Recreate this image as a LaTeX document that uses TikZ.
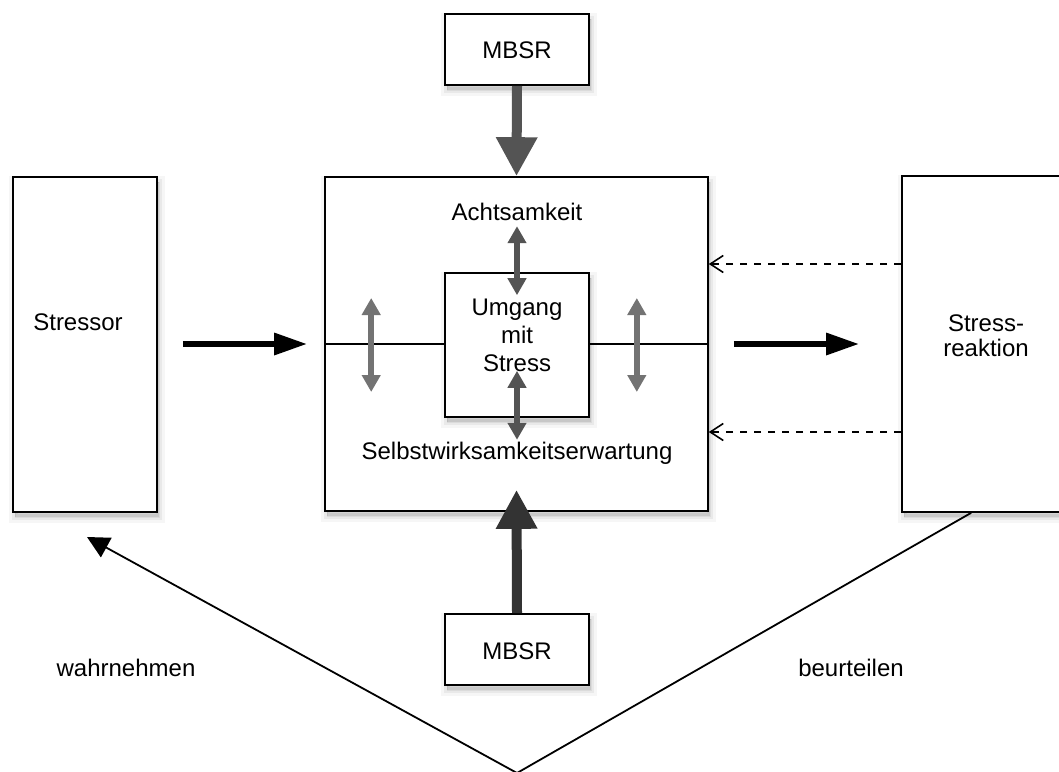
\documentclass[tikz,border=0pt]{standalone}
\usepackage{fontspec}
\setmainfont{Liberation Sans}
\usetikzlibrary{arrows.meta}

\begin{document}
\begin{tikzpicture}[x=1pt,y=-1pt,
  softshadow/.style={
    preaction={draw=black,draw opacity=0.035,line width=12pt,
      fill=black,fill opacity=0.035,transform canvas={xshift=2pt,yshift=-5pt}},
    preaction={draw=black,draw opacity=0.05,line width=6pt,
      fill=black,fill opacity=0.05,transform canvas={xshift=2pt,yshift=-5pt}},
    preaction={draw=black,draw opacity=0.06,line width=1pt,
      fill=black,fill opacity=0.06,transform canvas={xshift=2pt,yshift=-5pt}}},
  box/.style={softshadow,draw=black,line width=1.6pt,fill=white,inner sep=0pt},
  lbl/.style={font=\fontsize{24}{28}\selectfont,align=center,inner sep=0pt},
  flowarrow/.style={line width=6pt,-{Triangle[length=33pt,width=21pt]}},
  mbsrarrow/.style={line width=10pt,-{Triangle[length=39pt,width=39pt]}},
  linkarrow/.style={line width=6.5pt,
    {Triangle[length=17pt,width=18pt]}-{Triangle[length=17pt,width=18pt]}},
  feedback/.style={line width=1.6pt,dash pattern=on 7pt off 7pt,
    -{Straight Barb[length=13pt,width=17pt]}},
  appraisal/.style={line width=1.8pt},
]
\useasboundingbox (0,0) rectangle (1059,771);

% boxes
\node[box,minimum width=144pt,minimum height=335pt] (stressor) at (85,344.5) {};
\node[box,minimum width=383pt,minimum height=334pt] (core) at (516.5,344) {};
\node[box,minimum width=163pt,minimum height=336pt] (reakt) at (983.5,344) {};
\node[box,minimum width=144pt,minimum height=71pt] (mtop) at (517,49.5) {};
\node[box,minimum width=144pt,minimum height=71pt] (mbot) at (517,649.5) {};

% divider through the core box
\draw[line width=1.6pt] (core.west) -- (core.east);
\node[box,minimum width=144pt,minimum height=144pt] (inner) at (517,345) {};

% texts
\node[lbl] (tstressor) at (78,322) {Stressor};
\node[lbl,font=\fontsize{24}{25}\selectfont] (treakt) at (986,336) {Stress-\\reaktion};
\node[lbl] (tmtop) at (517,50) {MBSR};
\node[lbl] (tmbot) at (517,651) {MBSR};
\node[lbl] (tach) at (517,212) {Achtsamkeit};
\node[lbl] (tselbst) at (517,453) {Selbstwirksamkeitserwartung};
\node[lbl] (tumgang) at (517,335) {Umgang\\mit\\Stress};
\node[lbl] (twahr) at (126,668) {wahrnehmen};
\node[lbl] (tbeurt) at (851,668) {beurteilen};

% main flow
\draw[flowarrow] ([xshift=25pt]stressor.east |- core.west) -- ([xshift=-17pt]core.west);
\draw[flowarrow] ([xshift=25pt]core.east) -- ([xshift=-42pt]reakt.west |- core.east);

% MBSR influences
\draw[mbsrarrow,draw=black!67,fill=black!67] (mtop.south) -- (core.north);
\draw[mbsrarrow,draw=black!80,fill=black!80] (mbot.north) -- ([yshift=22pt]core.south);

% links inside the core box
\draw[linkarrow,draw=black!67,fill=black!67] ([yshift=46pt]inner.north) -- ([yshift=-23pt]inner.north);
\draw[linkarrow,draw=black!67,fill=black!67] ([yshift=47pt]inner.south) -- ([yshift=-22pt]inner.south);
\draw[linkarrow,draw=black!55,fill=black!55] ([xshift=47pt,yshift=46pt]core.west) -- ([xshift=47pt,yshift=-48pt]core.west);
\draw[linkarrow,draw=black!55,fill=black!55] ([xshift=-72pt,yshift=46pt]core.east) -- ([xshift=-72pt,yshift=-48pt]core.east);

% feedback from the stress reaction
\draw[feedback] (reakt.west |- 0,264) -- (core.east |- 0,264);
\draw[feedback] (reakt.west |- 0,432) -- (core.east |- 0,432);

% appraisal loop
\coordinate (apex) at (517,773);
\coordinate (perceive) at (87,537);
\draw[appraisal] ([xshift=70pt]reakt.south west) -- (apex);
\draw[appraisal,-{Triangle[length=22pt,width=22pt]}] (apex) -- (perceive);
\end{tikzpicture}
\end{document}
